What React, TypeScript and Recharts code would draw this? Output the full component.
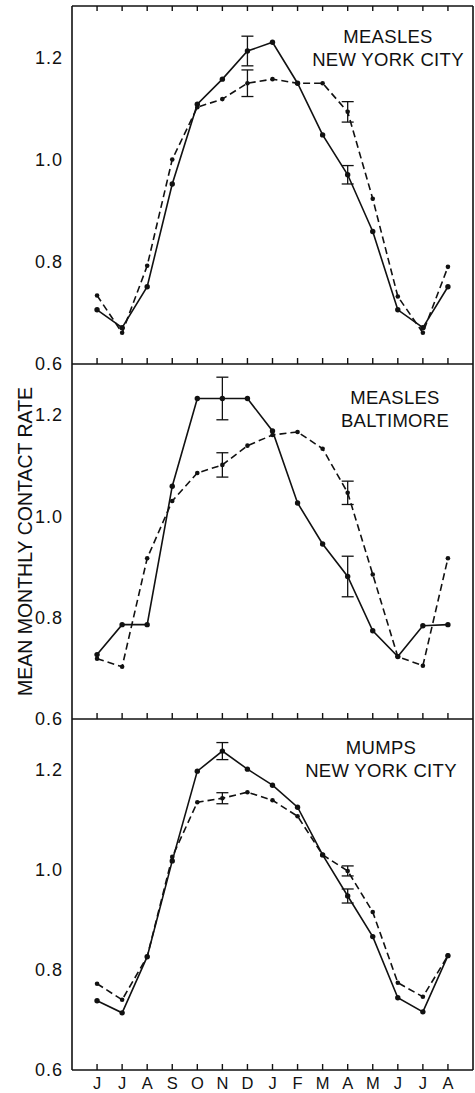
import React from 'react';
import { LineChart, Line, XAxis, YAxis, ErrorBar, Label } from 'recharts';

// month sequence, June through the following August
const months = ['J', 'J', 'A', 'S', 'O', 'N', 'D', 'J', 'F', 'M', 'A', 'M', 'J', 'J', 'A'];
const xTicks = months.map((_, i) => i);
const yTicks = [0.6, 0.8, 1.0, 1.2];

const nycMeaslesSolid = [0.706, 0.671, 0.751, 0.952, 1.108, 1.157, 1.212, 1.229, 1.149, 1.048, 0.97, 0.859, 0.706, 0.671, 0.751];
const nycMeaslesDashed = [0.734, 0.661, 0.792, 1.0, 1.102, 1.118, 1.149, 1.157, 1.149, 1.149, 1.093, 0.923, 0.732, 0.661, 0.79];
const nycMeaslesSolidErr = [null, null, null, null, null, null, 0.029, null, null, null, 0.018, null, null, null, null];
const nycMeaslesDashedErr = [null, null, null, null, null, null, 0.026, null, null, null, 0.02, null, null, null, null];

const baltMeaslesSolid = [0.727, 0.786, 0.786, 1.059, 1.232, 1.232, 1.232, 1.168, 1.026, 0.945, 0.881, 0.774, 0.723, 0.784, 0.786];
const baltMeaslesDashed = [0.719, 0.703, 0.917, 1.03, 1.085, 1.101, 1.139, 1.16, 1.166, 1.133, 1.046, 0.885, 0.723, 0.705, 0.917];
const baltMeaslesSolidErr = [null, null, null, null, null, 0.042, null, null, null, null, 0.04, null, null, null, null];
const baltMeaslesDashedErr = [null, null, null, null, null, 0.024, null, null, null, null, 0.023, null, null, null, null];

const nycMumpsSolid = [0.738, 0.714, 0.826, 1.017, 1.196, 1.236, 1.2, 1.168, 1.124, 1.029, 0.947, 0.866, 0.744, 0.716, 0.828];
const nycMumpsDashed = [0.772, 0.74, 0.826, 1.025, 1.134, 1.142, 1.154, 1.138, 1.106, 1.029, 0.997, 0.915, 0.774, 0.746, 0.828];
const nycMumpsSolidErr = [null, null, null, null, null, 0.017, null, null, null, null, 0.014, null, null, null, null];
const nycMumpsDashedErr = [null, null, null, null, null, 0.011, null, null, null, null, 0.01, null, null, null, null];

const FONT = '"Liberation Sans", Arial, sans-serif';
const INK = '#111';

const buildRows = (solid: number[], dashed: number[], solidErr: (number | null)[], dashedErr: (number | null)[]) =>
  months.map((m, i) => ({ idx: i, month: m, solid: solid[i], dashed: dashed[i], solidErr: solidErr[i], dashedErr: dashedErr[i] }));

const axisLine = { stroke: INK, strokeWidth: 1.6 };
const tickLine = { stroke: INK, strokeWidth: 1.4 };
const tickText = { fontFamily: FONT, fontSize: 18, fill: INK, letterSpacing: 1 };
const monthText = { fontFamily: FONT, fontSize: 16.5, fill: INK };
const blankText = { fontSize: 1, fill: 'none' };
const blank = () => '';

const yTitle = (props: any) => {
  const vb = props.viewBox;
  const cx = vb.x + 25;
  const cy = vb.y + vb.height / 2;
  return (
    <text x={cx} y={cy} transform={`rotate(-90 ${cx} ${cy})`} textAnchor="middle" dominantBaseline="central"
      fontFamily={FONT} fontSize={19.5} fill={INK}>
      MEAN MONTHLY CONTACT RATE
    </text>
  );
};

type PanelProps = {
  top: number;
  height: number;
  margin: { top: number; right: number; bottom: number; left: number };
  rows: any[];
  topAxis?: boolean;
  monthLabels?: boolean;
  bottomHeight: number;
  yLabel?: boolean;
  title: string[];
  titleX: number;
  titleY: number;
};

const Panel = ({ top, height, margin, rows, topAxis, monthLabels, bottomHeight, yLabel, title, titleX, titleY }: PanelProps) => (
  <>
    <div style={{ position: 'absolute', left: 0, top, width: 475, height }}>
      <LineChart width={475} height={height} data={rows} margin={margin}>
        {/* outer axes carry the labels, mirrored axes draw the frame with inward ticks */}
        <XAxis xAxisId="b" dataKey="idx" type="number" domain={[-1, 15]} ticks={xTicks} interval={0}
          orientation="bottom" height={bottomHeight} tickSize={0} tickMargin={7}
          tick={monthLabels ? monthText : false} tickFormatter={(v: number) => months[v]}
          axisLine={false} tickLine={false} />
        <XAxis xAxisId="bm" dataKey="idx" type="number" domain={[-1, 15]} ticks={xTicks} interval={0}
          orientation="bottom" mirror height={1} tickSize={6} tick={blankText} tickFormatter={blank}
          axisLine={axisLine} tickLine={tickLine} />
        {topAxis && (
          <XAxis xAxisId="tm" dataKey="idx" type="number" domain={[-1, 15]} ticks={xTicks} interval={0}
            orientation="top" mirror height={1} tickSize={5} tick={blankText} tickFormatter={blank}
            axisLine={axisLine} tickLine={tickLine} />
        )}
        <YAxis yAxisId="l" type="number" domain={[0.6, 1.3]} ticks={yTicks} interval={0} width={72}
          tickSize={0} tickMargin={9} tick={tickText} tickFormatter={(v: number) => v.toFixed(1)}
          axisLine={false} tickLine={false}>
          {yLabel && <Label content={yTitle} />}
        </YAxis>
        <YAxis yAxisId="lm" type="number" domain={[0.6, 1.3]} ticks={yTicks} interval={0} width={1} mirror
          tickSize={7} tick={blankText} tickFormatter={blank} axisLine={axisLine} tickLine={tickLine} />
        <YAxis yAxisId="rm" orientation="right" type="number" domain={[0.6, 1.3]} ticks={yTicks} interval={0}
          width={1} mirror tickSize={7} tick={blankText} tickFormatter={blank} axisLine={axisLine} tickLine={tickLine} />
        <Line xAxisId="b" yAxisId="l" type="linear" dataKey="solid" stroke={INK} strokeWidth={1.6}
          dot={{ r: 2.7, fill: INK, stroke: INK, strokeWidth: 0 }} activeDot={false} isAnimationActive={false}>
          <ErrorBar dataKey="solidErr" direction="y" width={6} stroke={INK} strokeWidth={1.3} isAnimationActive={false} />
        </Line>
        <Line xAxisId="b" yAxisId="l" type="linear" dataKey="dashed" stroke={INK} strokeWidth={1.6}
          strokeDasharray="7 4" dot={{ r: 2.3, fill: INK, stroke: INK, strokeWidth: 0 }} activeDot={false}
          isAnimationActive={false}>
          <ErrorBar dataKey="dashedErr" direction="y" width={6} stroke={INK} strokeWidth={1.3} isAnimationActive={false} />
        </Line>
      </LineChart>
    </div>
    <div style={{ position: 'absolute', left: titleX - 110, top: titleY - 11, width: 220, textAlign: 'center',
      fontFamily: FONT, fontSize: 18.5, lineHeight: '22.5px', color: INK, letterSpacing: 0.3 }}>
      {title.map((t) => <div key={t}>{t}</div>)}
    </div>
  </>
);

export default function App() {
  return (
    <div style={{ position: 'absolute', left: 0, top: 0, width: 475, height: 1093, background: '#fff', overflow: 'hidden' }}>
      <Panel top={0} height={384} margin={{ top: 6, right: 2, bottom: 19, left: 0 }} bottomHeight={1} topAxis
        rows={buildRows(nycMeaslesSolid, nycMeaslesDashed, nycMeaslesSolidErr, nycMeaslesDashedErr)}
        title={['MEASLES', 'NEW YORK CITY']} titleX={388} titleY={37} />
      <Panel top={356} height={375} margin={{ top: 8, right: 2, bottom: 11, left: 0 }} bottomHeight={1} yLabel
        rows={buildRows(baltMeaslesSolid, baltMeaslesDashed, baltMeaslesSolidErr, baltMeaslesDashedErr)}
        title={['MEASLES', 'BALTIMORE']} titleX={395} titleY={398} />
      <Panel top={711} height={382} margin={{ top: 8, right: 2, bottom: 0, left: 0 }} bottomHeight={23} monthLabels
        rows={buildRows(nycMumpsSolid, nycMumpsDashed, nycMumpsSolidErr, nycMumpsDashedErr)}
        title={['MUMPS', 'NEW YORK CITY']} titleX={381} titleY={748} />
    </div>
  );
}
